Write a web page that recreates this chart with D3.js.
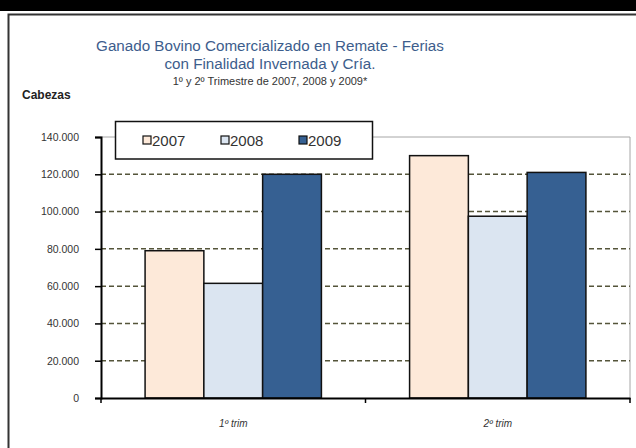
<!DOCTYPE html>
<html>
<head>
<meta charset="utf-8">
<script src="https://cdn.jsdelivr.net/npm/d3@7"></script>
<style>
  body { margin: 0; background: #fff; }
  svg { display: block; font-family: "Liberation Sans", Arial, sans-serif; }
</style>
</head>
<body>
<svg id="chart"></svg>
<script>
// data
const categories = ['1º trim', '2º trim'];
const years = ['2007', '2008', '2009'];
const values2007 = [79000, 130000];
const values2008 = [61500, 97500];
const values2009 = [120000, 121000];
const yTicks = [0, 20000, 40000, 60000, 80000, 100000, 120000, 140000];

const seriesValues = { '2007': values2007, '2008': values2008, '2009': values2009 };
const colors = { '2007': '#fde9d9', '2008': '#dbe5f1', '2009': '#366092' };

const width = 636, height = 448;
const plot = { left: 101, right: 630, top: 137, bottom: 398 };

const svg = d3.select('#chart').attr('width', width).attr('height', height);

// black band on top and the outer frame
svg.append('rect').attr('x', 0).attr('y', 0).attr('width', width).attr('height', 11).attr('fill', '#000');
svg.append('rect').attr('x', 8.5).attr('y', 14.5).attr('width', 700).attr('height', 500)
    .attr('fill', 'none').attr('stroke', '#333').attr('stroke-width', 2);

// titles
const title = svg.append('g').attr('text-anchor', 'middle');
title.append('text').attr('x', 270).attr('y', 51).attr('font-size', 15.2).attr('fill', '#3d5d8c')
    .text('Ganado Bovino Comercializado en Remate - Ferias');
title.append('text').attr('x', 270).attr('y', 69).attr('font-size', 15.2).attr('fill', '#3d5d8c')
    .text('con Finalidad Invernada y Cría.');
title.append('text').attr('x', 270).attr('y', 85).attr('font-size', 11).attr('fill', '#333')
    .text('1º y 2º Trimestre de 2007, 2008 y 2009*');
svg.append('text').attr('x', 22).attr('y', 99).attr('font-size', 12).attr('font-weight', 'bold')
    .attr('fill', '#222').text('Cabezas');

// scales
const x = d3.scaleBand().domain(categories).range([plot.left, plot.right]);
const xInner = d3.scaleBand().domain(years).range([0, x.bandwidth()]).paddingOuter(0.75);
const y = d3.scaleLinear().domain([0, 140000]).range([plot.bottom, plot.top]);

const locale = d3.formatLocale({ decimal: ',', thousands: '.', grouping: [3], currency: ['$', ''] });
const fmt = locale.format(',');

// plot border (top/right)
svg.append('path')
    .attr('d', `M${plot.left},${plot.top}H${plot.right}V${plot.bottom}`)
    .attr('fill', 'none').attr('stroke', '#a6a6a6').attr('stroke-width', 1);

// dashed gridlines
svg.append('g').selectAll('line')
    .data(yTicks.filter(d => d > 0 && d < 140000))
    .join('line')
    .attr('x1', plot.left).attr('x2', plot.right)
    .attr('y1', d => y(d)).attr('y2', d => y(d))
    .attr('stroke', '#55553a').attr('stroke-width', 1.5).attr('stroke-dasharray', '5,3');

// bars
const groups = svg.append('g').selectAll('g')
    .data(categories)
    .join('g')
    .attr('transform', d => `translate(${x(d)},0)`);

groups.selectAll('rect')
    .data((c, i) => years.map(yr => ({ year: yr, value: seriesValues[yr][i] })))
    .join('rect')
    .attr('x', d => xInner(d.year))
    .attr('width', xInner.bandwidth())
    .attr('y', d => y(d.value))
    .attr('height', d => y(0) - y(d.value))
    .attr('fill', d => colors[d.year])
    .attr('stroke', '#111').attr('stroke-width', 1.5);

// y axis
const yAxis = svg.append('g')
    .attr('transform', `translate(${plot.left},0)`)
    .call(d3.axisLeft(y).tickValues(yTicks).tickFormat(fmt).tickSize(6).tickPadding(16));
yAxis.select('.domain').attr('stroke', '#000').attr('stroke-width', 2);
yAxis.selectAll('.tick line').attr('stroke', '#000').attr('stroke-width', 1.5);
yAxis.selectAll('.tick text').attr('font-size', 10.5).attr('fill', '#333')
    .attr('font-family', '"Liberation Sans", Arial, sans-serif');

// x axis
const xAxis = svg.append('g')
    .attr('transform', `translate(0,${plot.bottom})`)
    .call(d3.axisBottom(x).tickSize(0).tickPadding(22));
xAxis.select('.domain').attr('stroke', '#000').attr('stroke-width', 2);
xAxis.selectAll('.tick text').attr('font-size', 10).attr('font-style', 'italic').attr('fill', '#333')
    .attr('font-family', '"Liberation Sans", Arial, sans-serif');
// category separators
xAxis.append('g').selectAll('line')
    .data([plot.left, x(categories[1]), plot.right])
    .join('line')
    .attr('x1', d => d).attr('x2', d => d).attr('y1', 0).attr('y2', 5)
    .attr('stroke', '#000').attr('stroke-width', 1.5);

// legend
const legend = svg.append('g');
legend.append('rect').attr('x', 115.5).attr('y', 121.5).attr('width', 257).attr('height', 37.5)
    .attr('fill', '#fff').attr('stroke', '#111').attr('stroke-width', 1.5);
const item = legend.selectAll('g.item')
    .data(years)
    .join('g').attr('class', 'item')
    .attr('transform', (d, i) => `translate(${143 + i * 78},140)`);
item.append('rect').attr('x', 0).attr('y', -4).attr('width', 8).attr('height', 8)
    .attr('fill', d => colors[d]).attr('stroke', '#111').attr('stroke-width', 1.2);
item.append('text').attr('x', 9).attr('y', 5.5).attr('font-size', 15).attr('fill', '#333')
    .text(d => d);
</script>
</body>
</html>
